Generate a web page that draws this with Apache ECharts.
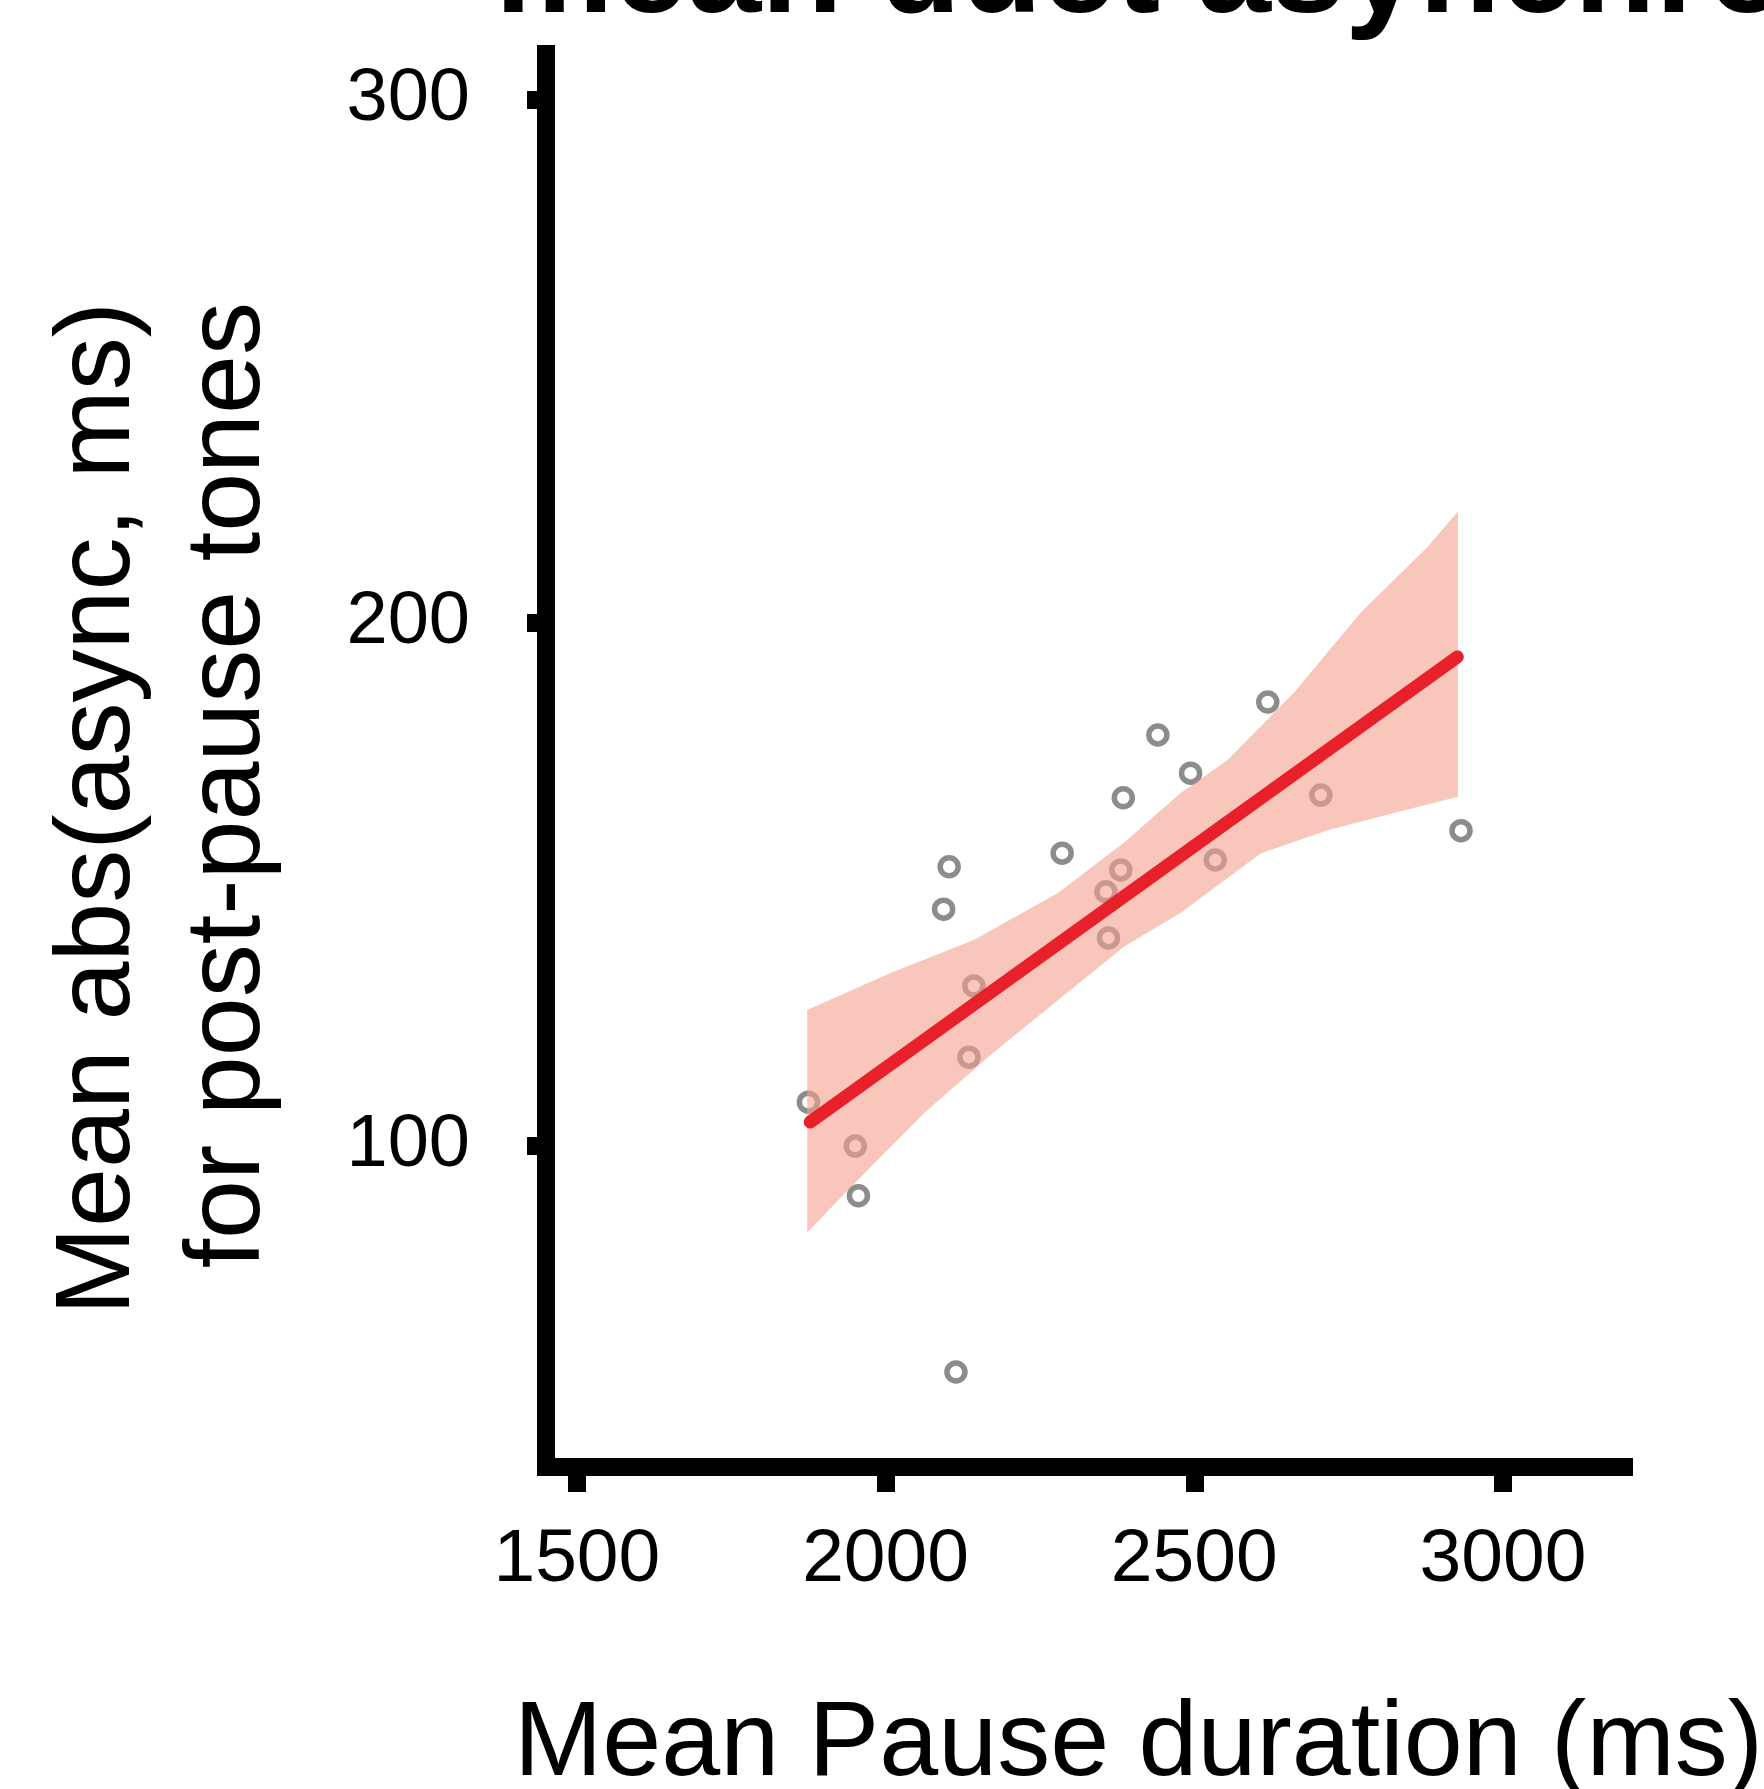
<!DOCTYPE html>
<html>
<head>
<meta charset="utf-8">
<title>mean duet asynchrony</title>
<script src="https://cdn.jsdelivr.net/npm/echarts@6.0.0/dist/echarts.min.js"></script>
<style>
    html, body { margin: 0; padding: 0; background: #fff; }
    #main { width: 1764px; height: 1789px; }
</style>
</head>
<body>
    <div id="main"></div>
</body>
<script>
    // points
    var pauseX = [1875, 1951, 1956, 2103, 2094, 2143, 2135, 2114, 2286, 2385, 2441, 2494, 2357, 2381, 2361, 2534, 2619, 2705, 2932];
    var asyncY = [108.3, 99.9, 90.4, 153.3, 145.2, 130.5, 116.9, 56.7, 155.9, 166.5, 178.5, 171.2, 148.5, 152.7, 139.7, 154.6, 184.8, 167.0, 160.2];

    // regression line ends
    var fitX = [1878, 2926];
    var fitY = [104.5, 193.4];

    // confidence band edges
    var bandUpX = [1873, 2008, 2143, 2279, 2386, 2478, 2554, 2661, 2769, 2878, 2927];
    var bandUpY = [125.9, 133.0, 139.3, 148.3, 157.9, 167.4, 173.7, 186.5, 201.8, 214.5, 221.2];
    var bandLowX = [1873, 1955, 2062, 2170, 2279, 2386, 2478, 2608, 2716, 2823, 2927];
    var bandLowY = [83.4, 93.4, 106.2, 117.3, 127.8, 138.0, 144.5, 155.9, 160.3, 163.6, 166.7];

    var xTicks = [1500, 2000, 2500, 3000];
    var yTicks = [100, 200, 300];

    var FONT = '"Liberation Sans", Arial, sans-serif';

    window.onload = function () {
        var pts = [];
        pauseX.forEach(function (x, i) {
            pts.push([x, asyncY[i]]);
        });
        var fit = [];
        fitX.forEach(function (x, i) {
            fit.push([x, fitY[i]]);
        });

        var myChart = echarts.init(document.getElementById('main'));
        var option = {
            animation: false,
            backgroundColor: '#fff',
            grid: {
                left: 546,
                top: 45,
                width: 1078,
                height: 1422,
                outerBoundsMode: 'none'
            },
            xAxis: {
                type: 'value',
                min: 1450,
                max: 3196,
                splitLine: { show: false },
                axisLine: { lineStyle: { color: '#000', width: 18, cap: 'square' } },
                axisTick: {
                    customValues: xTicks,
                    length: 25,
                    lineStyle: { color: '#000', width: 18, cap: 'butt' }
                },
                axisLabel: {
                    customValues: xTicks,
                    margin: 56,
                    fontSize: 75,
                    fontFamily: FONT,
                    color: '#000',
                    formatter: function (v) { return String(v); }
                }
            },
            yAxis: {
                type: 'value',
                min: 38.55,
                max: 310.4,
                splitLine: { show: false },
                axisLine: { lineStyle: { color: '#000', width: 18, cap: 'butt' } },
                axisTick: {
                    customValues: yTicks,
                    length: 19,
                    lineStyle: { color: '#000', width: 18, cap: 'butt' }
                },
                axisLabel: {
                    customValues: yTicks,
                    margin: 76,
                    fontSize: 74,
                    fontFamily: FONT,
                    color: '#000',
                    formatter: function (v) { return String(v); }
                }
            },
            graphic: [
                {
                    type: 'text',
                    x: 495,
                    y: -25,
                    style: {
                        text: 'mean duet asynchrony',
                        font: 'bold 133px ' + FONT,
                        fill: '#000',
                        align: 'left',
                        verticalAlign: 'middle'
                    }
                },
                {
                    type: 'text',
                    x: 100,
                    y: 302,
                    rotation: Math.PI / 2,
                    style: {
                        text: 'Mean abs(async, ms)',
                        font: '106px ' + FONT,
                        fill: '#000',
                        align: 'right',
                        verticalAlign: 'middle'
                    }
                },
                {
                    type: 'text',
                    x: 230,
                    y: 302,
                    rotation: Math.PI / 2,
                    style: {
                        text: 'for post-pause tones',
                        font: '106px ' + FONT,
                        fill: '#000',
                        align: 'right',
                        verticalAlign: 'middle'
                    }
                },
                {
                    type: 'text',
                    x: 514,
                    y: 1746,
                    style: {
                        text: 'Mean Pause duration (ms)',
                        font: '106px ' + FONT,
                        fill: '#000',
                        align: 'left',
                        verticalAlign: 'middle'
                    }
                }
            ],
            series: [
                {
                    type: 'scatter',
                    z: 1,
                    data: pts,
                    symbol: 'circle',
                    symbolSize: 18,
                    itemStyle: {
                        color: 'rgba(0,0,0,0)',
                        borderColor: '#6f6f6f',
                        borderWidth: 5.5
                    }
                },
                {
                    type: 'custom',
                    z: 2,
                    data: [[bandUpX[0], bandUpY[0]]],
                    renderItem: function (params, api) {
                        var poly = [];
                        bandUpX.forEach(function (x, i) {
                            poly.push(api.coord([x, bandUpY[i]]));
                        });
                        for (var i = bandLowX.length - 1; i >= 0; i--) {
                            poly.push(api.coord([bandLowX[i], bandLowY[i]]));
                        }
                        return {
                            type: 'polygon',
                            shape: { points: poly },
                            style: { fill: 'rgba(243,160,142,0.6)' }
                        };
                    }
                },
                {
                    type: 'line',
                    z: 3,
                    data: fit,
                    symbol: 'none',
                    lineStyle: { color: '#e8202a', width: 13, cap: 'round' }
                }
            ]
        };
        myChart.setOption(option);
    }
</script>
</html>
